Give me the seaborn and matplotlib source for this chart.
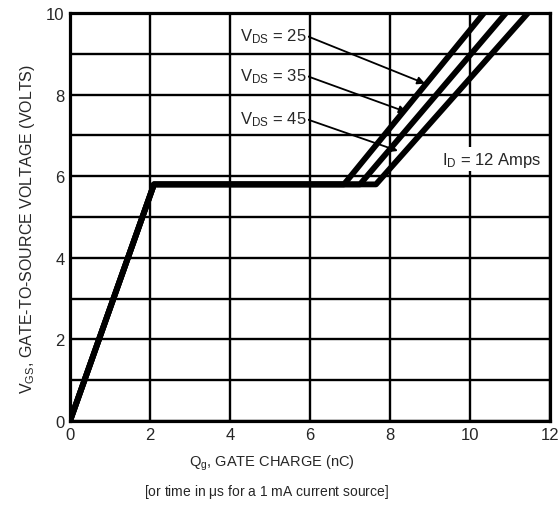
import matplotlib
matplotlib.use('Agg')
import matplotlib.pyplot as plt
import seaborn as sns
import pandas as pd

# gate charge curves
qg_25 = [0, 2.1, 6.85, 10.35]
qg_35 = [0, 2.1, 7.25, 10.9]
qg_45 = [0, 2.1, 7.65, 11.45]
vgs = [0, 5.8, 5.8, 10.0]
vds_labels = ['25', '35', '45']

# label text positions and arrow tips (data units)
label_xy = [(4.25, 9.44), (4.25, 8.46), (4.25, 7.40)]
arrow_tip = [(8.88, 8.27), (8.42, 7.57), (8.2, 6.62)]

sns.set_style('white')
plt.rcParams['font.family'] = ['Liberation Sans', 'DejaVu Sans']
plt.rcParams['mathtext.fontset'] = 'custom'
plt.rcParams['mathtext.rm'] = 'Liberation Sans'
plt.rcParams['mathtext.it'] = 'Liberation Sans'

rows = []
for lab, qg in zip(vds_labels, [qg_25, qg_35, qg_45]):
    for x, y in zip(qg, vgs):
        rows.append({'qg': x, 'vgs': y, 'vds': lab})
df = pd.DataFrame(rows)

fig = plt.figure(figsize=(5.6, 5.1), dpi=100)
ax = fig.add_axes([0.125, 0.1725, 0.857, 0.8])

sns.lineplot(data=df, x='qg', y='vgs', units='vds', estimator=None, sort=False,
             color='black', linewidth=4.2, ax=ax, legend=False,
             solid_capstyle='butt', zorder=3)

ax.set_xlim(0, 12)
ax.set_ylim(0, 10)
ax.set_xticks(range(0, 13, 2))
ax.set_yticks(range(0, 11, 2))
ax.set_yticks(range(0, 11), minor=True)
ax.grid(True, which='both', color='black', linewidth=1.7)
ax.set_axisbelow(True)
for s in ax.spines.values():
    s.set_color('black')
    s.set_linewidth(2.3)
ax.tick_params(axis='both', which='both', length=0, labelsize=12, pad=4)

for lab, (tx, ty), (px, py) in zip(vds_labels, label_xy, arrow_tip):
    ax.annotate(r'V$_{\mathrm{DS}}$ = ' + lab, xy=(px, py), xytext=(tx, ty),
                fontsize=12, ha='left', va='center', zorder=5,
                bbox=dict(boxstyle='square,pad=0.1', fc='white', ec='none'),
                arrowprops=dict(arrowstyle='-|>', color='black', lw=1.3,
                                mutation_scale=11, shrinkA=0, shrinkB=0,
                                relpos=(1.0, 0.5)))

ax.text(9.3, 6.42, r'I$_{\mathrm{D}}$ = 12 Amps', fontsize=12, ha='left',
        va='center', zorder=5,
        bbox=dict(boxstyle='square,pad=0.15', fc='white', ec='none'))

ax.set_xlabel('')
ax.set_ylabel('')
fig.text(0.485, 0.092, r'Q$_{\mathrm{g}}$, GATE CHARGE (nC)', ha='center',
         va='center', fontsize=10.5)
fig.text(0.475, 0.035, r'[or time in $\mu$s for a 1 mA current source]',
         ha='center', va='center', fontsize=10)
fig.text(0.05, 0.55, r'V$_{\mathrm{GS}}$, GATE-TO-SOURCE VOLTAGE (VOLTS)',
         ha='center', va='center', rotation=90, fontsize=11.5)

fig.savefig('out.png', dpi=100)
